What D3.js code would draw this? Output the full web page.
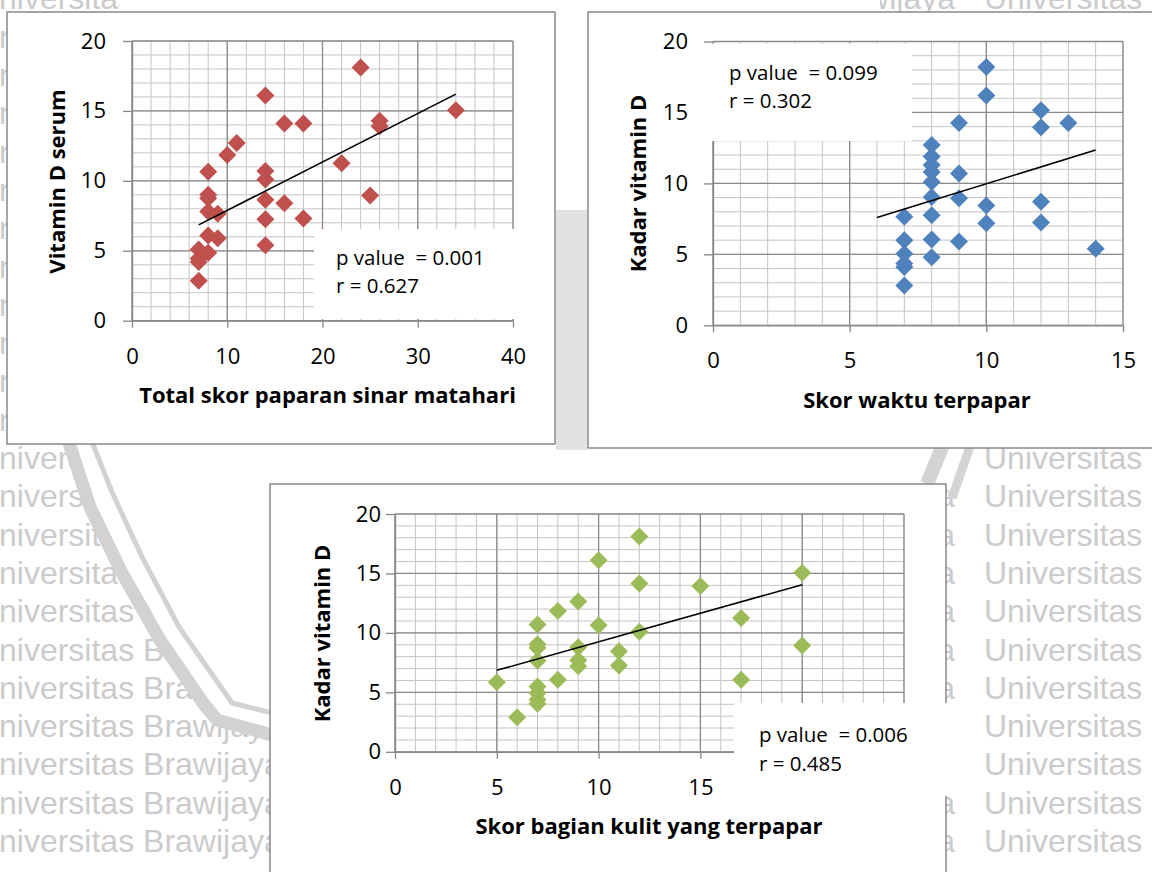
<!DOCTYPE html>
<html>
<head>
<meta charset="utf-8">
<style>
body { margin: 0; background: #fff; }
svg { display: block; }
.tick text { font-family: "Open Sans", sans-serif; font-size: 22px; fill: #000; }
.axis path, .axis line { stroke: #868686; stroke-width: 1.3px; }
.grid-minor { stroke: #c4c4c4; stroke-width: 1px; }
.grid-major { stroke: #8a8a8a; stroke-width: 1.3px; }
.title { font-family: "Open Sans", sans-serif; font-weight: bold; font-size: 22px; fill: #000; }
.note { font-family: "Open Sans", sans-serif; font-size: 20.5px; fill: #000; white-space: pre; }
.wm { font-family: "Liberation Sans", Arial, sans-serif; font-size: 32px; fill: #cbcbcb; }
</style>
</head>
<body>
<svg width="1152" height="872"></svg>
<script src="https://cdn.jsdelivr.net/npm/d3@7"></script>
<script>

// chart 1: total skor paparan sinar matahari vs vitamin D serum
var totalSkor = [24,14,16,18,34,26,26,11,10,8,14,14,22,8,8,14,16,25,8,9,14,18,20,8,9,14,7,8,7,7,7];
var vitD1 = [18.1,16.1,14.1,14.1,15.05,14.3,13.9,12.7,11.85,10.65,10.7,10.1,11.25,9.0,8.75,8.65,8.4,8.95,7.8,7.65,7.25,7.3,6.0,6.1,5.9,5.4,5.1,4.85,4.45,4.2,2.85];
var trend1 = [[7, 6.85], [34, 16.2]];
var note1 = ["p value  = 0.001", "r = 0.627"];

// chart 2: skor waktu terpapar vs kadar vitamin D
var waktu = [10,10,12,12,13,9,8,8,8,8,8,9,8,9,10,12,7,8,10,12,7,8,9,7,8,7,7,14,7];
var vitD2 = [18.2,16.2,15.15,13.95,14.25,14.25,12.7,11.9,11.3,10.8,10.1,10.7,9.05,8.95,8.45,8.7,7.65,7.75,7.2,7.25,6.0,6.05,5.9,5.05,4.8,4.35,4.1,5.4,2.8];
var trend2 = [[6, 7.6], [14, 12.35]];
var note2 = ["p value  = 0.099", "r = 0.302"];

// chart 3: skor bagian kulit yang terpapar vs kadar vitamin D
var kulit = [12,10,20,12,15,9,8,17,7,10,12,20,7,7,9,9,9,11,11,7,8,17,5,7,7,7,7,6];
var vitD3 = [18.1,16.1,15.05,14.15,13.95,12.65,11.85,11.25,10.7,10.65,10.1,8.95,9.05,8.75,8.8,7.7,7.2,8.45,7.25,7.65,6.05,6.05,5.85,5.5,4.95,4.4,4.05,2.9];
var trend3 = [[5, 6.85], [20, 14.05]];
var note3 = ["p value  = 0.006", "r = 0.485"];

var yTicks = [0, 5, 10, 15, 20];
var xTicks1 = [0, 10, 20, 30, 40];
var xTicks2 = [0, 5, 10, 15];
var xTicks3 = [0, 5, 10, 15, 20, 25];
// chart 3 labels that sit under the p value box
var hidden3 = [20, 25];

var svg = d3.select("svg");

// watermark rows (only the parts that show between the charts)
var wm = svg.append("g");
function wmText(x, y, s, anchor) {
  wm.append("text").attr("class", "wm")
    .attr("x", x).attr("y", y)
    .attr("text-anchor", anchor || "start")
    .text(s);
}
for (var i = -12; i <= 10; i++) {
  var ry = 469 + 38.3 * i;
  if (i == -12) {
    wmText(-1, ry, "niversitas");
    wmText(955, ry, "Brawijaya", "end");
    wmText(984, ry, "Universitas");
  } else if (i < 0) {
    wmText(-1, ry, "n");
  } else {
    wmText(-1, ry, "niversitas Brawijaya");
    wmText(955, ry, "a", "end");
    wmText(984, ry, "Universitas");
  }
}

// logo area (white inside, gray bands)
svg.append("path")
  .attr("d", "M64,430 L68,440 L90,507 L122,573 L160,640 L203,703 L217,720 L270,735 L270,484 L946,484 L951,498 L973,430 Z")
  .attr("fill", "#fff");
svg.append("rect").attr("x", 120).attr("y", 0).attr("width", 760).attr("height", 14).attr("fill", "#fff");
svg.append("rect").attr("x", 554).attr("y", 0).attr("width", 36).attr("height", 450).attr("fill", "#fff");
svg.append("rect").attr("x", 556).attr("y", 210).attr("width", 31).attr("height", 240).attr("fill", "#e2e2e2");
svg.append("path")
  .attr("d", "M64,430 L68,440 L90,507 L122,573 L160,640 L203,703 L217,720 L272,735")
  .attr("fill", "none").attr("stroke", "#d2d2d2").attr("stroke-width", 13);
svg.append("path")
  .attr("d", "M87,430 L92,442 L112,492 L142,557 L179,627 L232,703 L272,713")
  .attr("fill", "none").attr("stroke", "#d2d2d2").attr("stroke-width", 5);
svg.append("path")
  .attr("d", "M975,432 L952,498")
  .attr("fill", "none").attr("stroke", "#d4d4d4").attr("stroke-width", 9);
svg.append("path")
  .attr("d", "M945,440 L927,484")
  .attr("fill", "none").attr("stroke", "#d4d4d4").attr("stroke-width", 14);

var diamond = d3.symbol().type(d3.symbolSquare).size(162);

function drawChart(c, xs, ys, trend, notes) {
  var x = d3.scaleLinear().domain(c.xDomain).range([c.left, c.right]);
  var y = d3.scaleLinear().domain([0, 20]).range([c.bottom, c.top]);
  var g = svg.append("g");

  g.append("rect")
    .attr("x", c.frame[0]).attr("y", c.frame[1])
    .attr("width", c.frame[2] - c.frame[0]).attr("height", c.frame[3] - c.frame[1])
    .attr("fill", "#fff").attr("stroke", "#888").attr("stroke-width", 1.5);

  // grid
  g.append("g").selectAll("line").data(x.ticks(c.xMinor)).enter().append("line")
    .attr("class", "grid-minor")
    .attr("x1", x).attr("x2", x).attr("y1", c.top).attr("y2", c.bottom);
  g.append("g").selectAll("line").data(y.ticks(20)).enter().append("line")
    .attr("class", "grid-minor")
    .attr("x1", c.left).attr("x2", c.right).attr("y1", y).attr("y2", y);
  g.append("g").selectAll("line").data(c.xTicks).enter().append("line")
    .attr("class", "grid-major")
    .attr("x1", x).attr("x2", x).attr("y1", c.top).attr("y2", c.bottom);
  g.append("g").selectAll("line").data(yTicks).enter().append("line")
    .attr("class", "grid-major")
    .attr("x1", c.left).attr("x2", c.right).attr("y1", y).attr("y2", y);

  // axes
  var xAxis = g.append("g").attr("class", "axis")
    .attr("transform", "translate(0," + c.bottom + ")")
    .call(d3.axisBottom(x).tickValues(c.xTicks).tickSize(7).tickSizeOuter(0).tickPadding(20.5));
  xAxis.selectAll(".tick text")
    .filter(function(d) { return (c.hideX || []).indexOf(d) >= 0; })
    .remove();
  g.append("g").attr("class", "axis")
    .attr("transform", "translate(" + c.left + ",0)")
    .call(d3.axisLeft(y).tickValues(yTicks).tickSize(9).tickSizeOuter(0).tickPadding(c.yPad));

  // points
  g.append("g").selectAll("path").data(xs).enter().append("path")
    .attr("d", diamond)
    .attr("fill", c.color)
    .attr("transform", function(d, i) { return "translate(" + x(d) + "," + y(ys[i]) + ") rotate(45)"; });

  // trend line
  g.append("path")
    .datum(trend)
    .attr("d", d3.line().x(function(d) { return x(d[0]); }).y(function(d) { return y(d[1]); }))
    .attr("fill", "none").attr("stroke", "#000").attr("stroke-width", 1.6);

  // titles
  g.append("text").attr("class", "title")
    .attr("x", c.xTitle[0]).attr("y", c.xTitle[1])
    .attr("text-anchor", "middle")
    .text(c.xLabel);
  g.append("text").attr("class", "title")
    .attr("transform", "translate(" + c.yTitle[0] + "," + c.yTitle[1] + ") rotate(-90)")
    .attr("dy", "0.35em")
    .attr("text-anchor", "middle")
    .text(c.yLabel);

  // p value box
  g.append("rect")
    .attr("x", c.box[0]).attr("y", c.box[1])
    .attr("width", c.box[2] - c.box[0]).attr("height", c.box[3] - c.box[1])
    .attr("fill", "#fff");
  g.selectAll(".note").data(notes).enter().append("text")
    .attr("class", "note")
    .attr("x", c.noteX)
    .attr("y", function(d, i) { return c.noteY[i]; })
    .text(function(d) { return d; });
}

drawChart({
  frame: [7, 12, 555, 444],
  left: 132, right: 513, top: 41, bottom: 320.7,
  xDomain: [0, 40], xTicks: xTicks1, xMinor: 20, yPad: 17,
  color: "#C0504D",
  xLabel: "Total skor paparan sinar matahari", xTitle: [327.5, 403],
  yLabel: "Vitamin D serum", yTitle: [57, 181.5],
  box: [314, 229, 514, 319], noteX: 336, noteY: [265, 293]
}, totalSkor, vitD1, trend1, note1);

drawChart({
  frame: [588, 12, 1160, 448],
  left: 713, right: 1123, top: 41.5, bottom: 325.3,
  xDomain: [0, 15], xTicks: xTicks2, xMinor: 15, yPad: 16,
  color: "#4F81BD",
  xLabel: "Skor waktu terpapar", xTitle: [917, 408],
  yLabel: "Kadar vitamin D", yTitle: [638, 183.5],
  box: [704, 43.5, 912, 141], noteX: 729, noteY: [80, 108]
}, waktu, vitD2, trend2, note2);

drawChart({
  frame: [270, 484, 946, 880],
  left: 395, right: 904, top: 514, bottom: 751.8,
  xDomain: [0, 25], xTicks: xTicks3, xMinor: 25, yPad: 5, hideX: hidden3,
  color: "#9BBB59",
  xLabel: "Skor bagian kulit yang terpapar", xTitle: [649, 834],
  yLabel: "Kadar vitamin D", yTitle: [322, 633.5],
  box: [734, 703, 960, 796], noteX: 759, noteY: [742, 771]
}, kulit, vitD3, trend3, note3);

</script>
</body>
</html>
